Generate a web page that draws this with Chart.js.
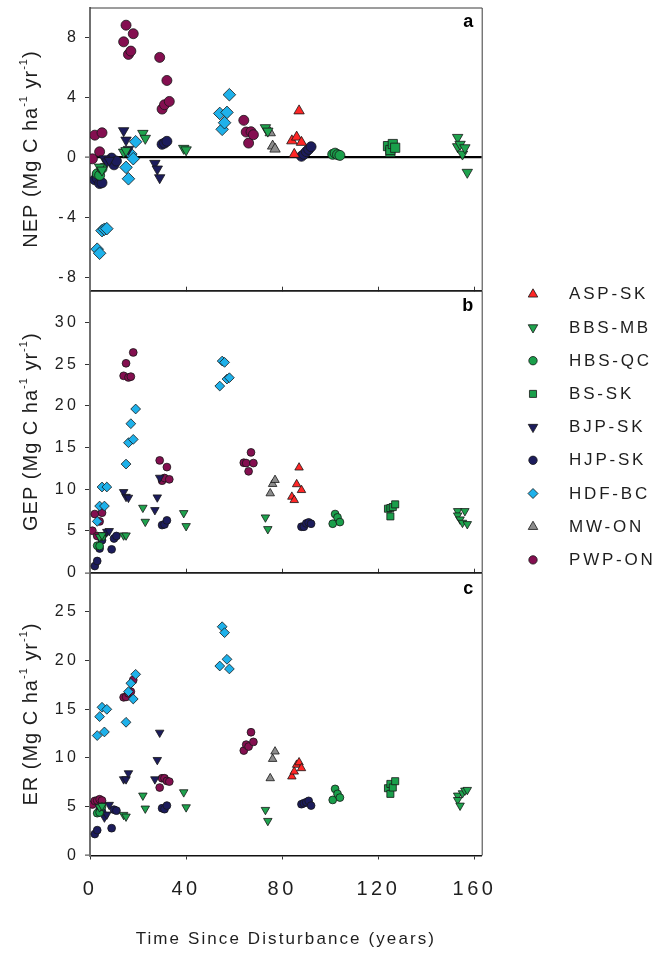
<!DOCTYPE html>
<html>
<head>
<meta charset="utf-8">
<script src="https://cdn.jsdelivr.net/npm/chart.js@4.4.1/dist/chart.umd.min.js"></script>
<style>
html,body{margin:0;padding:0;background:#fff;}
#wrap{position:relative;width:669px;height:954px;overflow:hidden;background:#fff;}
canvas{position:absolute;left:0;}
</style>
</head>
<body>
<div id="wrap">
<canvas id="cA" width="669" height="340" style="top:-25px;width:669px;height:340px"></canvas>
<canvas id="cB" width="669" height="330" style="top:265px;width:669px;height:330px"></canvas>
<canvas id="cC" width="669" height="407" style="top:547px;width:669px;height:407px"></canvas>
</div>
<script>
// ---------------- DATA ----------------
const siteLabels = ['ASP-SK','BBS-MB','HBS-QC','BS-SK','BJP-SK','HJP-SK','HDF-BC','MW-ON','PWP-ON'];

const aspYears = [84,85,86,87,88];
const aspNEP = [1.1,0.2,1.35,3.1,1.0];
const aspGEP = [9.1,8.7,10.6,12.6,9.9];
const aspER  = [8.1,8.6,9.3,9.55,8.95];

const bbsYears = [4,5,14,15,22,23,39,40,73,74,153,153,154,155,156,157];
const bbsNEP = [-0.65,-0.85,0.35,0.45,1.6,1.27,0.6,0.5,1.98,1.75,1.33,0.71,0.87,0.22,0.64,-1.0];
const bbsGEP = [4.3,4.5,4.47,4.47,7.79,6.11,7.15,5.59,6.63,5.23,7.39,6.87,6.39,5.99,7.39,5.83];
const bbsER  = [4.95,5.09,4.17,4.0,6.15,4.82,6.49,4.95,4.68,3.55,6.15,5.7,5.12,6.39,6.66,6.73];

const hbsYears = [3,4,5,101,102,103,104];
const hbsNEP = [-1.1,-1.2,-0.75,0.2,0.28,0.18,0.13];
const hbsGEP = [3.24,3.2,4.3,5.87,7.03,6.63,6.07];
const hbsER  = [4.34,4.41,5.02,5.7,6.83,6.32,5.94];

const bsYears = [124,125,125,126,127];
const bsNEP = [0.75,0.35,0.49,0.89,0.64];
const bsGEP = [7.67,6.75,7.75,7.87,8.19];
const bsER  = [6.9,6.32,7.34,6.97,7.62];

const bjpYears = [6,7,8,14,15,16,27,28,29];
const bjpNEP = [-0.1,-0.3,-0.2,1.78,1.15,0.53,-0.4,-0.78,-1.36];
const bjpGEP = [4.5,4.9,5.0,9.67,9.1,8.99,7.51,9.03,11.39];
const bjpER  = [3.9,4.2,5.2,7.82,7.82,8.44,7.82,9.8,12.6];

const hjpYears = [2,3,4,5,9,10,11,30,31,32,88,89,90,91,92];
const hjpNEP = [-1.5,-1.4,-1.75,-1.7,-0.05,-0.5,-0.25,0.87,0.95,1.07,0.07,0.2,0.38,0.53,0.71];
const hjpGEP = [0.8,1.4,2.9,3.9,2.8,4.1,4.4,5.71,5.79,6.27,5.51,5.51,5.91,6.03,5.87];
const hjpER  = [2.2,2.6,4.7,4.5,2.8,4.7,4.6,4.85,4.75,5.12,5.26,5.36,5.46,5.6,5.12];

const hdfYears = [3,4,5,6,7,15,16,17,18,19,54,55,56,57,58];
const hdfNEP = [-6.13,-6.4,-4.89,-4.8,-4.76,-0.67,-1.43,0.22,-0.09,1.04,2.93,1.87,2.31,3.0,4.18];
const hdfGEP = [6.15,7.99,10.27,7.99,10.27,13.02,15.58,17.86,15.98,19.62,22.37,25.37,25.21,23.21,23.37];
const hdfER  = [12.3,14.24,15.2,12.67,14.99,13.66,16.8,17.66,16.05,18.58,19.43,23.46,22.85,20.12,19.13];

const mwYears = [75,76,77];
const mwNEP = [1.64,0.75,0.55];
const mwGEP = [9.51,10.63,11.11];
const mwER  = [7.92,9.9,10.66];

const pwpYears = [1,2,3,4,5,14,15,16,17,18,29,30,31,32,33,64,65,66,67,68];
const pwpNEP = [-0.1,1.48,-1.22,0.37,1.64,7.71,8.82,6.87,7.09,8.25,6.67,3.22,3.51,5.13,3.73,2.47,1.69,0.95,1.71,1.51];
const pwpGEP = [5.03,7.03,4.4,6.15,7.19,23.6,25.1,23.4,23.5,26.4,13.46,11.03,11.35,12.66,11.19,13.18,13.14,12.15,14.42,13.14];
const pwpER  = [5.23,5.6,5.64,5.77,5.64,16.22,16.26,16.63,16.8,18.0,6.97,7.92,7.92,7.65,7.58,10.76,11.37,11.17,12.64,11.65];

const xTicks = [0,40,80,120,160];
const nepTicks = [-8,-4,0,4,8];
const gepTicks = [0,5,10,15,20,25,30];
const erTicks = [0,5,10,15,20,25];
const xTitle = 'Time Since Disturbance (years)';

// ---------------- STYLE ----------------
const FONT = "'Liberation Sans', Arial, sans-serif";
const sites = [
  {years: aspYears, nep: aspNEP, gep: aspGEP, er: aspER},
  {years: bbsYears, nep: bbsNEP, gep: bbsGEP, er: bbsER},
  {years: hbsYears, nep: hbsNEP, gep: hbsGEP, er: hbsER},
  {years: bsYears,  nep: bsNEP,  gep: bsGEP,  er: bsER},
  {years: bjpYears, nep: bjpNEP, gep: bjpGEP, er: bjpER},
  {years: hjpYears, nep: hjpNEP, gep: hjpGEP, er: hjpER},
  {years: hdfYears, nep: hdfNEP, gep: hdfGEP, er: hdfER},
  {years: mwYears,  nep: mwNEP,  gep: mwGEP,  er: mwER},
  {years: pwpYears, nep: pwpNEP, gep: pwpGEP, er: pwpER}
];
const siteStyle = [
  {shape:'triangle', rot:0,   color:'#ff2626'},
  {shape:'triangle', rot:180, color:'#1fa34e'},
  {shape:'circle',   rot:0,   color:'#1a9f4b'},
  {shape:'rect',     rot:0,   color:'#1a9f4b'},
  {shape:'triangle', rot:180, color:'#1c1c5c'},
  {shape:'circle',   rot:0,   color:'#1c1c5c'},
  {shape:'rectRot',  rot:0,   color:'#1eb1ea'},
  {shape:'triangle', rot:0,   color:'#8c8c8c'},
  {shape:'circle',   rot:0,   color:'#840f50'}
];
const radA  = {circle:5,   triangle:6,   rectRot:6.3, rect:6.5};
const radBC = {circle:3.9, triangle:4.9, rectRot:4.9, rect:5};
const radLeg = {circle:4.2, triangle:5.5, rectRot:5,  rect:5};

function datasetsFor(key, rad) {
  return sites.map((s, i) => {
    const st = siteStyle[i];
    return {
      label: siteLabels[i],
      data: s.years.map((yr, j) => ({x: yr, y: s[key][j]})),
      pointStyle: st.shape,
      pointRotation: st.rot,
      pointRadius: rad[st.shape],
      backgroundColor: st.color,
      borderColor: '#161616',
      pointBackgroundColor: st.color,
      pointBorderColor: '#161616',
      pointBorderWidth: 0.8,
      borderWidth: 0.8,
      showLine: false
    };
  });
}

function wrapSpacing(scale, lab, tit) {
  if (scale.$wrapped) return;
  scale.$wrapped = true;
  const dl = scale.drawLabels, dt = scale.drawTitle;
  scale.drawLabels = function (a) { const c = this.ctx; c.save(); c.letterSpacing = lab + 'px'; dl.call(this, a); c.restore(); };
  scale.drawTitle = function (a) { const c = this.ctx; c.save(); c.letterSpacing = tit + 'px'; dt.call(this, a); c.restore(); };
}

function yAxis(min, max, tickArr, zeroLine) {
  return {
    type: 'linear', position: 'left', min: min, max: max,
    afterBuildTicks: s => { s.ticks = tickArr.map(v => ({value: v})); },
    afterFit: s => { s.width = 90; wrapSpacing(s, 3.2, 0); },
    ticks: {font: {family: FONT, size: 16}, color: '#1e1e1e', padding: 6},
    grid: {
      drawOnChartArea: !!zeroLine, drawTicks: true, tickLength: 5,
      tickColor: '#333', tickWidth: 1,
      color: c => (zeroLine && c.tick && c.tick.value === 0) ? '#000' : 'rgba(0,0,0,0)',
      lineWidth: c => (c.tick && c.tick.value === 0) ? 2.2 : 1
    },
    border: {display: true, color: '#707070', width: 2}
  };
}

function xAxis(showLabels) {
  return {
    type: 'linear', position: 'bottom', min: 0, max: 163,
    afterBuildTicks: s => { s.ticks = xTicks.map(v => ({value: v})); },
    afterFit: s => { s.height = showLabels ? 98.5 : 0; wrapSpacing(s, 3.5, 2.1); },
    ticks: {display: showLabels, font: {family: FONT, size: 20}, color: '#1e1e1e', padding: 17.5, maxRotation: 0, autoSkip: false},
    grid: {drawOnChartArea: false, drawTicks: true, tickLength: showLabels ? 4 : -4, tickColor: '#333', tickWidth: 1},
    border: {display: true, color: '#111', width: 1.5},
    title: {display: showLabels, text: xTitle, font: {family: FONT, size: 17}, color: '#1e1e1e', padding: {top: 4, bottom: 4.8}}
  };
}

function decor(cfg) {
  return {
    id: 'decor' + cfg.letter,
    afterDraw(chart) {
      const ctx = chart.ctx, ca = chart.chartArea;
      ctx.save();
      // top & right frame
      ctx.strokeStyle = '#3a3a3a'; ctx.lineWidth = 1;
      ctx.beginPath();
      ctx.moveTo(ca.left, ca.top + 0.5);
      ctx.lineTo(ca.right + 0.5, ca.top + 0.5);
      ctx.lineTo(ca.right + 0.5, ca.bottom);
      ctx.stroke();
      // panel letter
      ctx.font = 'bold 18px ' + FONT; ctx.fillStyle = '#000';
      ctx.textAlign = 'right'; ctx.textBaseline = 'alphabetic';
      ctx.fillText(cfg.letter, ca.right - 8.5, ca.top + cfg.letterDy);
      // y title with superscripts
      const segs = cfg.title;
      ctx.translate(36.5, (ca.top + ca.bottom) / 2);
      ctx.rotate(-Math.PI / 2);
      ctx.letterSpacing = '1px';
      ctx.textAlign = 'left'; ctx.fillStyle = '#1e1e1e';
      let total = 0; const ws = [];
      segs.forEach(sg => { ctx.font = (sg.sup ? '11px ' : '20px ') + FONT; const w = ctx.measureText(sg.t).width; ws.push(w); total += w; });
      let x = -total / 2;
      segs.forEach((sg, i) => { ctx.font = (sg.sup ? '11px ' : '20px ') + FONT; ctx.fillText(sg.t, x, sg.sup ? -9.5 : 0); x += ws[i]; });
      ctx.restore();
      // legend
      if (cfg.legend) {
        ctx.save();
        chart.data.datasets.forEach((ds, i) => {
          const cy = ca.top + 3.6 + i * 33.2;
          const mx = ca.right + 51.3;
          ctx.fillStyle = ds.backgroundColor; ctx.strokeStyle = ds.borderColor; ctx.lineWidth = 0.8;
          Chart.helpers.drawPoint(ctx, {pointStyle: ds.pointStyle, rotation: ds.pointRotation, radius: radLeg[ds.pointStyle], borderWidth: 0.8}, mx, cy);
          ctx.letterSpacing = '2.8px';
          ctx.font = '17px ' + FONT; ctx.fillStyle = '#1e1e1e';
          ctx.textAlign = 'left'; ctx.textBaseline = 'middle';
          ctx.fillText(ds.label, ca.right + 87.3, cy + 0.5);
        });
        ctx.restore();
      }
    }
  };
}

function makeChart(id, key, rad, yMin, yMax, tickArr, zeroLine, showX, pad, cfg) {
  return new Chart(document.getElementById(id), {
    type: 'scatter',
    data: {datasets: datasetsFor(key, rad)},
    options: {
      responsive: false, animation: false, devicePixelRatio: 1, events: [],
      layout: {padding: pad},
      plugins: {legend: {display: false}, tooltip: {enabled: false}},
      scales: {x: xAxis(showX), y: yAxis(yMin, yMax, tickArr, zeroLine)}
    },
    plugins: [decor(cfg)]
  });
}

const supTitle = name => [{t: name + ' (Mg C ha'}, {t: '-1', sup: true}, {t: ' yr'}, {t: '-1', sup: true}, {t: ')'}];

makeChart('cA', 'nep', radA, -8.9, 10, nepTicks, true, false,
  {top: 32.5, right: 187.3, bottom: 24.3, left: 0},
  {letter: 'a', letterDy: 19.5, title: supTitle('NEP')});
makeChart('cB', 'gep', radBC, 0, 33.8, gepTicks, false, false,
  {top: 25.7, right: 187.3, bottom: 22.3, left: 0},
  {letter: 'b', letterDy: 20.3, title: supTitle('GEP'), legend: true});
makeChart('cC', 'er', radBC, 0, 29, erTicks, false, true,
  {top: 25.7, right: 187.3, bottom: 0, left: 0},
  {letter: 'c', letterDy: 21.5, title: supTitle('ER')});
</script>
</body>
</html>
